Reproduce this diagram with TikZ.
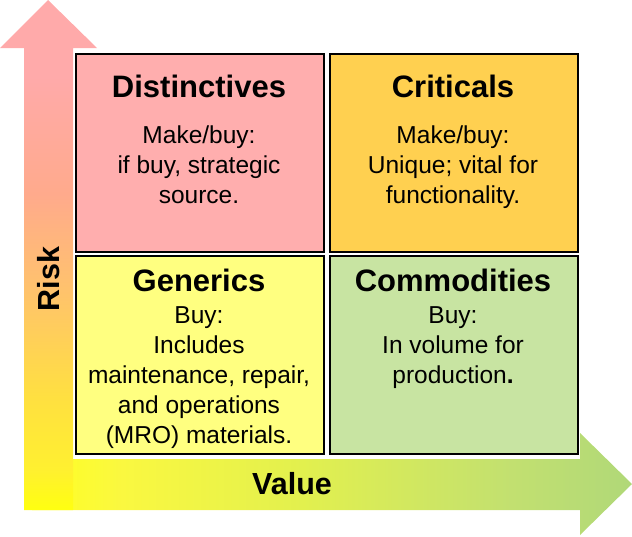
\documentclass[tikz,border=0pt]{standalone}
\usepackage{fontspec}
\setmainfont{Liberation Sans}
\definecolor{cDist}{HTML}{FFAEAE}
\definecolor{cCrit}{HTML}{FFD050}
\definecolor{cGen}{HTML}{FFFF80}
\definecolor{cComm}{HTML}{C8E4A2}
\definecolor{rA}{HTML}{FFFF10}
\definecolor{rA2}{HTML}{FFF030}
\definecolor{rB}{HTML}{FFE040}
\definecolor{rC}{HTML}{FFC070}
\definecolor{rD}{HTML}{FFAA8C}
\definecolor{rE}{HTML}{FFAAAA}
\definecolor{vA}{HTML}{FFFF20}
\definecolor{vA2}{HTML}{FAF840}
\definecolor{vB}{HTML}{E2F04E}
\definecolor{vC}{HTML}{C2E070}
\definecolor{vD}{HTML}{B0D878}
\pgfdeclareverticalshading{riskshade}{100bp}{color(0bp)=(rA); color(25bp)=(rA); color(29bp)=(rA2); color(36bp)=(rB); color(47.5bp)=(rC); color(56bp)=(rD); color(67.5bp)=(rE); color(100bp)=(rE)}
\pgfdeclarehorizontalshading{valueshade}{100bp}{color(0bp)=(vA); color(25bp)=(vA); color(32.5bp)=(vA2); color(47.5bp)=(vB); color(65bp)=(vC); color(75bp)=(vD); color(100bp)=(vD)}
\begin{document}
\begin{tikzpicture}[x=1pt,y=-1pt,
  quad/.style={draw=black, line width=1.6pt, anchor=north west, inner sep=0,
    minimum width=248pt, minimum height=198pt},
  ttl/.style={font=\fontsize{31}{33}\selectfont\bfseries, anchor=base, inner sep=0},
  bdy/.style={font=\fontsize{24.5}{30}\selectfont, anchor=base, inner sep=0},
  axl/.style={font=\fontsize{30.5}{32}\selectfont\bfseries, inner sep=0}]
\useasboundingbox (0,0) rectangle (632,536);
% value arrow
\path[shading=valueshade] (32,459) -- (580,459) -- (580,433) -- (632,484) -- (580,535) -- (580,510) -- (32,510) -- cycle;
% risk arrow
\path[shading=riskshade] (24,510) -- (24,48) -- (0,48) -- (48,0) -- (97,48) -- (73,48) -- (73,510) -- cycle;
% boxes
\node[quad, fill=cDist] (dist) at (75,53) {};
\node[quad, fill=cCrit] (crit) at (329,53) {};
\node[quad, fill=cGen] (gen) at (75,255) {};
\node[quad, fill=cComm] (comm) at (329,255) {};
% Distinctives
\node[ttl] (distT) at (199,97) {Distinctives};
\node[bdy] (dist1) at (199,143) {Make/buy:};
\node[bdy] (dist2) at (199,173) {if buy, strategic};
\node[bdy] (dist3) at (199,203) {source.};
% Criticals
\node[ttl] (critT) at (453,97) {Criticals};
\node[bdy] (crit1) at (453,143) {Make/buy:};
\node[bdy] (crit2) at (453,173) {Unique; vital for};
\node[bdy] (crit3) at (453,203) {functionality.};
% Generics
\node[ttl] (genT) at (199,291) {Generics};
\node[bdy] (gen1) at (199,323) {Buy:};
\node[bdy] (gen2) at (199,353) {Includes};
\node[bdy] (gen3) at (199,383) {maintenance, repair,};
\node[bdy] (gen4) at (199,413) {and operations};
\node[bdy] (gen5) at (199,443) {(MRO) materials.};
% Commodities
\node[ttl] (commT) at (453,291) {Commodities};
\node[bdy] (comm1) at (453,323) {Buy:};
\node[bdy] (comm2) at (453,353) {In volume for};
\node[bdy] (comm3) at (453,383) {production\textbf{.}};
% axis labels
\node[axl, rotate=90] (risk) at (49,279) {Risk};
\node[axl] (value) at (292,484) {Value};
\end{tikzpicture}
\end{document}
